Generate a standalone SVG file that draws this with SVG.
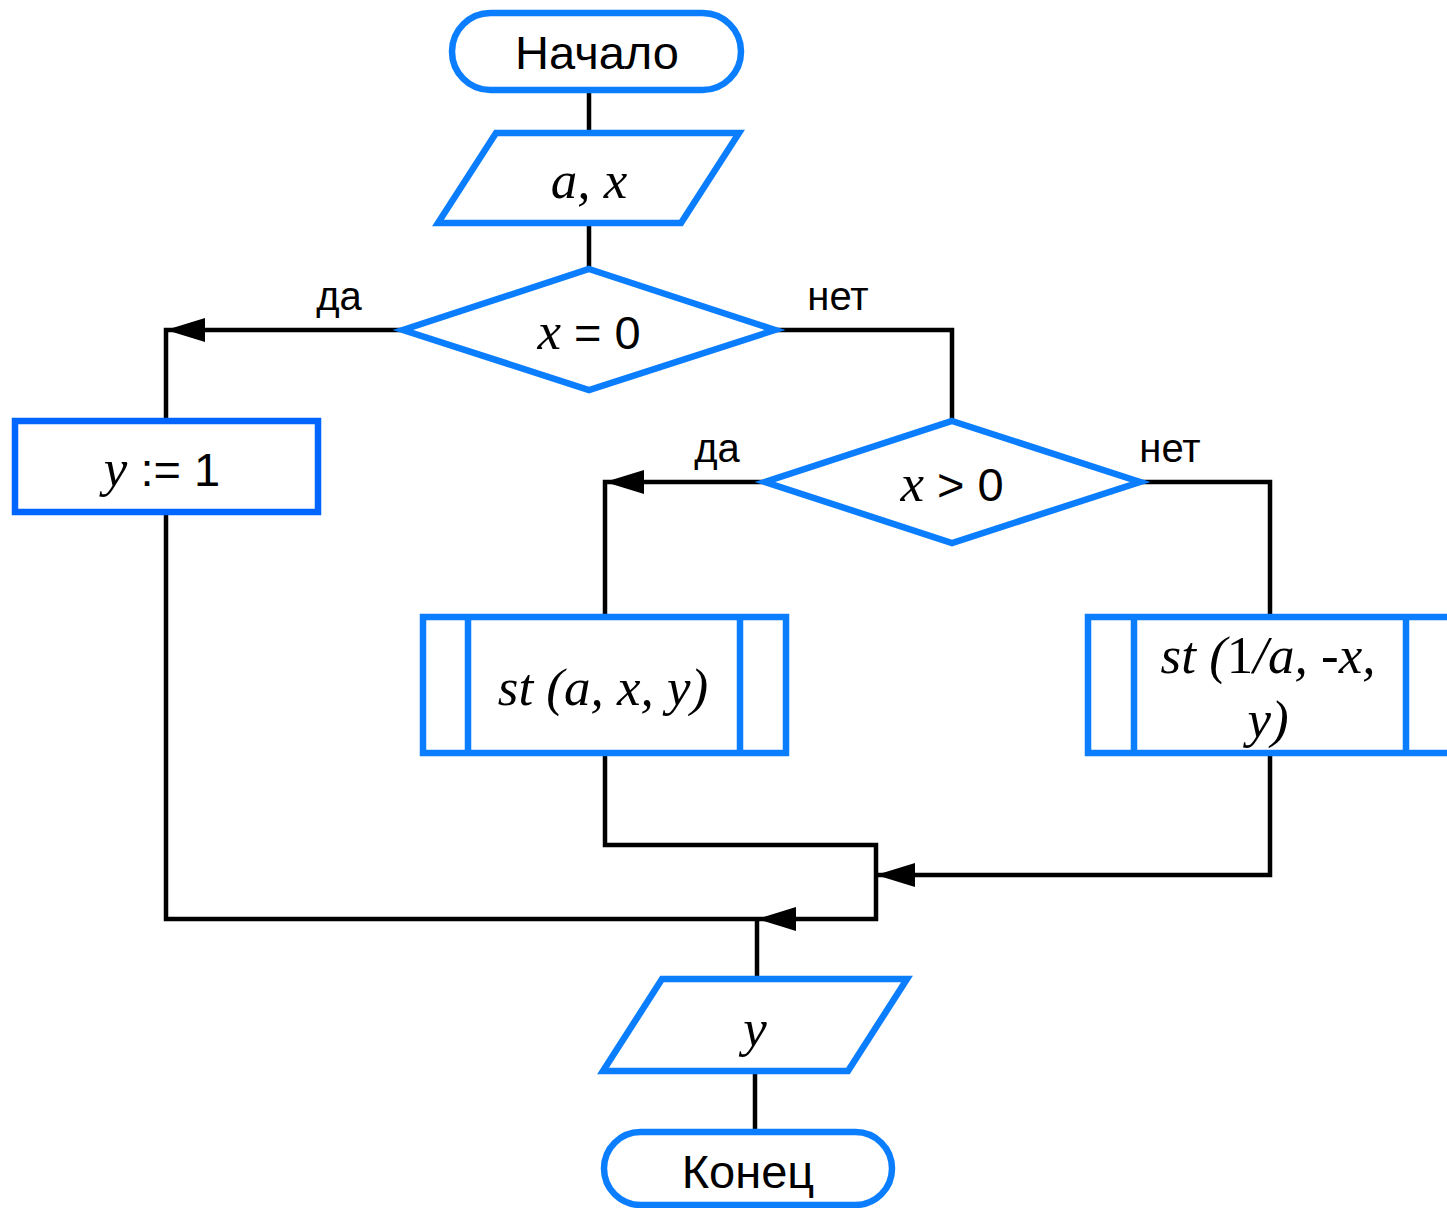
<svg xmlns="http://www.w3.org/2000/svg" width="1447" height="1208" viewBox="0 0 1447 1208">
<defs>
<style>
.b{fill:#fff;stroke:#0A7EFF;stroke-width:6.5}
.b2{fill:#fff;stroke:#0066FF;stroke-width:6.5}
.c{fill:none;stroke:#000;stroke-width:4.5;stroke-linejoin:miter}
.s{font-family:"Liberation Sans",Arial,sans-serif;font-size:47px;fill:#000}
.l{font-family:"Liberation Sans",Arial,sans-serif;font-size:40px;fill:#000}
.i{font-family:"Liberation Serif","Times New Roman",serif;font-style:italic;font-size:53px;fill:#000}
.n{font-style:normal}
.a{fill:#000}
</style>
</defs>
<g id="connectors">
<path class="c" d="M589,90 V132"/>
<path class="c" d="M589,224 V268"/>
<path class="c" d="M403,330 H166 V420"/>
<path class="c" d="M166,512 V919 H876 V845 H605 V753"/>
<path class="c" d="M757,919 V979"/>
<path class="c" d="M775,330 H952 V420"/>
<path class="c" d="M765,482 H605 V617"/>
<path class="c" d="M1140,482 H1270 V617"/>
<path class="c" d="M1270,753 V875 H876"/>
<path class="c" d="M755,1071 V1132"/>
<polygon class="a" points="166,330 205,318 205,342"/>
<polygon class="a" points="605,482 644,470 644,494"/>
<polygon class="a" points="876,875 915,863 915,887"/>
<polygon class="a" points="757,919 796,907 796,931"/>
<text class="l" x="339" y="310" text-anchor="middle">да</text>
<text class="l" x="838" y="310" text-anchor="middle">нет</text>
<text class="l" x="717" y="462" text-anchor="middle">да</text>
<text class="l" x="1170" y="462" text-anchor="middle">нет</text>
</g>
<g id="start">
<rect class="b" x="452" y="13" width="289" height="77" rx="38.5"/>
<text class="s" x="597" y="69" text-anchor="middle">Начало</text>
</g>
<g id="input">
<polygon class="b" points="496,133 739,133 681,223 438,223"/>
<text class="i" x="589" y="198" text-anchor="middle">a, x</text>
</g>
<g id="cond1">
<polygon class="b" points="589,269 775,330 589,390 403,330"/>
<text x="589" y="349" text-anchor="middle"><tspan class="i">x</tspan><tspan class="s"> = 0</tspan></text>
</g>
<g id="assign">
<rect class="b2" x="15" y="421" width="303" height="91"/>
<text x="162" y="486" text-anchor="middle"><tspan class="i">y</tspan><tspan class="s"> := 1</tspan></text>
</g>
<g id="cond2">
<polygon class="b" points="952,421 1140,482 952,543 765,482"/>
<text x="952" y="501" text-anchor="middle"><tspan class="i">x</tspan><tspan class="s"> &gt; 0</tspan></text>
</g>
<g id="sub1">
<rect class="b" x="423" y="617" width="363" height="136"/>
<line class="b" x1="468" y1="617" x2="468" y2="753"/>
<line class="b" x1="740" y1="617" x2="740" y2="753"/>
<text class="i" x="603" y="705" text-anchor="middle">st (a, x, y)</text>
</g>
<g id="sub2">
<rect class="b" x="1088" y="617" width="364" height="136"/>
<line class="b" x1="1134" y1="617" x2="1134" y2="753"/>
<line class="b" x1="1406" y1="617" x2="1406" y2="753"/>
<text class="i" x="1268" y="673" text-anchor="middle">st (<tspan class="n">1</tspan>/a, -x,</text>
<text class="i" x="1268" y="737" text-anchor="middle">y)</text>
</g>
<g id="output">
<polygon class="b" points="662,979 907,979 848,1071 603,1071"/>
<text class="i" x="755" y="1046" text-anchor="middle">y</text>
</g>
<g id="end">
<rect class="b" x="604" y="1132" width="288" height="73" rx="36.5"/>
<text class="s" x="748" y="1188" text-anchor="middle">Конец</text>
</g>
</svg>
